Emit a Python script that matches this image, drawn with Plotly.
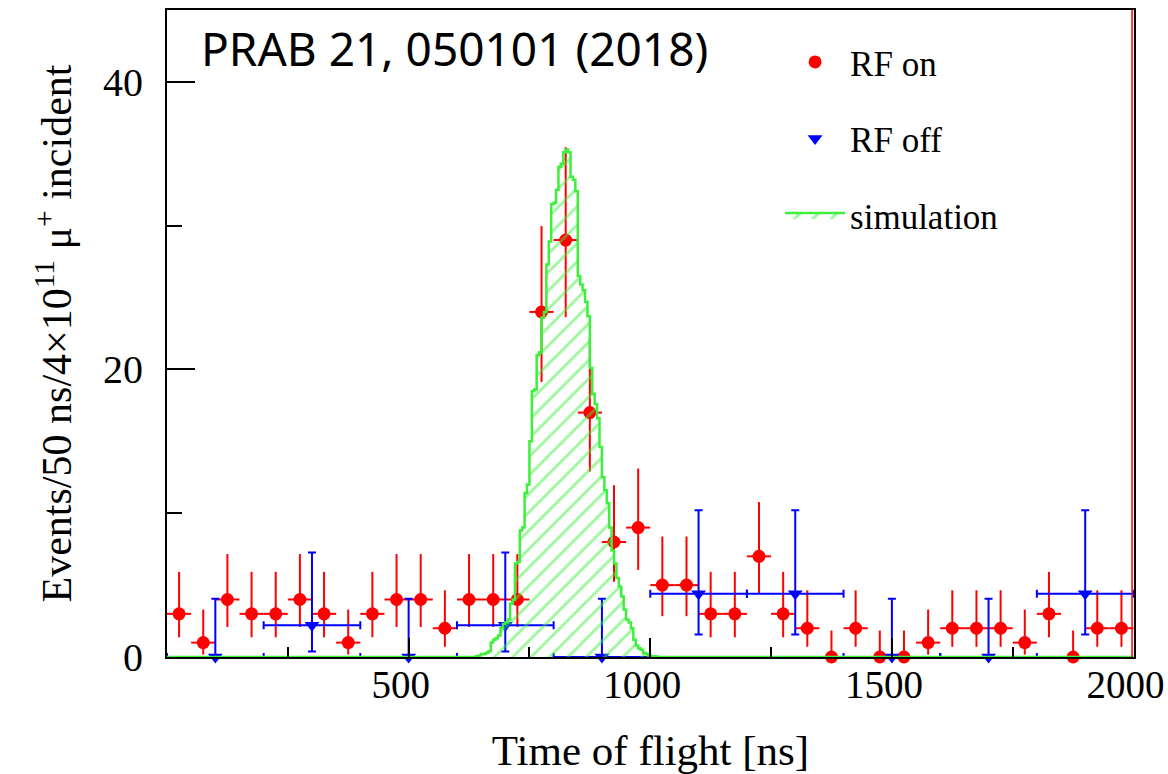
import plotly.graph_objects as go

# ---------------- data ----------------
# RF on: 50 ns bins, centres 25 ... 1975 ns
rf_on_x = list(range(25, 2000, 50))
rf_on_y = [3, 1, 4, 3, 3, 4, 3, 1, 3, 4,
           4, 2, 4, 4, 4, 24, 29, 17, 8, 9,
           5, 5, 3, 3, 7, 3, 2, 0, 2, 0,
           0, 1, 2, 2, 2, 1, 3, 0, 2, 2]
rf_on_err_minus = [1.63, 0.83, 1.91, 1.63, 1.63, 1.91, 1.63, 0.83, 1.63, 1.91,
                   1.91, 1.29, 1.91, 1.91, 1.91, 4.87, 5.36, 4.10, 2.77, 2.94,
                   2.16, 2.16, 1.63, 1.63, 2.58, 1.63, 1.29, 0.00, 1.29, 0.00,
                   0.00, 0.83, 1.29, 1.29, 1.29, 0.83, 1.63, 0.00, 1.29, 1.29]
rf_on_err_plus = [2.92, 2.30, 3.16, 2.92, 2.92, 3.16, 2.92, 2.30, 2.92, 3.16,
                  3.16, 2.64, 3.16, 3.16, 3.16, 5.97, 6.46, 5.20, 3.95, 4.11,
                  3.38, 3.38, 2.92, 2.92, 3.77, 2.92, 2.64, 1.84, 2.64, 1.84,
                  1.84, 2.30, 2.64, 2.64, 2.64, 2.30, 2.92, 1.84, 2.64, 2.64]
rf_on_halfwidth = 25

# RF off: 200 ns bins, centres 100 ... 1900 ns
rf_off_x = [100, 300, 500, 700, 900, 1100, 1300, 1500, 1700, 1900]
rf_off_y = [0, 2.2, 0, 2.2, 0, 4.4, 4.4, 0, 0, 4.4]
rf_off_err_minus = [0, 1.82, 0, 1.82, 0, 2.84, 2.84, 0, 0, 2.84]
rf_off_err_plus = [4.05, 5.06, 4.05, 5.06, 4.05, 5.81, 5.81, 4.05, 4.05, 5.81]
rf_off_halfwidth = 100

# simulation: 5 ns bins, left edges 640 ... 1010 ns
sim_left_edges = list(range(640, 1015, 5))
sim_y = [0.05, 0.1, 0.2, 0.2, 0.3, 0.4, 1.0, 1.2, 1.3, 1.5,
         2.0, 2.3, 2.4, 2.6, 3.7, 4.0, 6.5, 6.6, 8.8, 9.0,
         11.4, 12.0, 15.0, 18.5, 18.6, 21.0, 21.2, 23.6, 24.0, 27.3,
         28.9, 31.5, 31.6, 32.5, 34.1, 34.3, 35.1, 35.3, 35.1, 33.4,
         33.2, 32.4, 26.5, 25.9, 25.5, 24.7, 23.7, 20.1, 18.3, 17.6,
         16.6, 14.6, 12.5, 11.6, 10.7, 9.0, 7.4, 6.5, 5.5, 4.9,
         4.2, 3.3, 2.6, 2.4, 2.0, 1.2, 0.8, 0.6, 0.5, 0.3,
         0.2, 0.1, 0.05, 0.05, 0.03]
sim_bin_width = 5
x_range = [0, 2001]
y_range = [0, 45]

x_tickvals = [500, 1000, 1500, 2000]
y_tickvals = [0, 20, 40]

RED = "#ff0000"
BLUE = "#0000ff"
GREEN = "#3cf03c"
SERIF = "Liberation Serif"

# histogram outline as a step line over the full axis range
step_x = [0] + sim_left_edges + [sim_left_edges[-1] + sim_bin_width, 2000]
step_y = [0] + sim_y + [0, 0]

fig = go.Figure()

fig.add_trace(go.Scatter(
    x=rf_on_x, y=rf_on_y, mode="markers", name="RF on",
    marker=dict(symbol="circle", size=13, color=RED),
    error_y=dict(type="data", symmetric=False, array=rf_on_err_plus,
                 arrayminus=rf_on_err_minus, color=RED, thickness=2, width=0),
    error_x=dict(type="constant", value=rf_on_halfwidth, color=RED, thickness=2, width=0),
    cliponaxis=False, legendgroup="a",
))

fig.add_trace(go.Scatter(
    x=rf_off_x, y=rf_off_y, mode="markers", name="RF off",
    marker=dict(symbol="triangle-down", size=13, color=BLUE),
    error_y=dict(type="data", symmetric=False, array=rf_off_err_plus,
                 arrayminus=rf_off_err_minus, color=BLUE, thickness=2, width=4),
    error_x=dict(type="constant", value=rf_off_halfwidth, color=BLUE, thickness=2, width=4),
    cliponaxis=False, legendgroup="b",
))

fig.add_trace(go.Scatter(
    x=step_x, y=step_y, mode="lines", name="simulation",
    line=dict(shape="hv", color=GREEN, width=2.5),
    fill="tozeroy", fillcolor="rgba(0,0,0,0)",
    fillpattern=dict(shape="/", fgcolor=GREEN, bgcolor="rgba(0,0,0,0)",
                     size=13, solidity=0.22),
    legendgroup="c",
))

fig.add_shape(type="line", xref="paper", yref="paper", x0=0.998, x1=0.998, y0=0, y1=1,
              line=dict(color=RED, width=1.5))

fig.add_annotation(
    text="PRAB 21, 050101 (2018)", xref="paper", yref="paper",
    x=0.033, y=0.993, xanchor="left", yanchor="top", showarrow=False,
    font=dict(family="Noto Sans", size=46, color="black"),
)

fig.update_xaxes(
    range=x_range, tickvals=x_tickvals, ticks="inside", ticklen=19, tickwidth=1.5,
    tickcolor="black", showline=True, linecolor="black", linewidth=2, mirror=True,
    showgrid=False, zeroline=False,
    tickfont=dict(family=SERIF, size=39, color="black"), ticklabelstandoff=-8,
    ticklabelshift=-8, ticklabeloverflow="allow",
    minor=dict(dtick=250, ticks="inside", ticklen=10, tickwidth=1.5, tickcolor="black"),
    title=dict(text="Time of flight [ns]", font=dict(family=SERIF, size=43, color="black"),
               standoff=30),
)
fig.update_yaxes(
    range=y_range, tickvals=y_tickvals, ticks="inside", ticklen=28, tickwidth=1.5,
    tickcolor="black", showline=True, linecolor="black", linewidth=2, mirror=True,
    showgrid=False, zeroline=False,
    tickfont=dict(family=SERIF, size=40, color="black"), ticklabelstandoff=14,
    minor=dict(dtick=10, ticks="inside", ticklen=15, tickwidth=1.5, tickcolor="black"),
    title=dict(text="Events/50 ns/4×10<sup>11</sup> μ<sup>+</sup> incident",
               font=dict(family=SERIF, size=42, color="black"), standoff=18),
)

fig.update_layout(
    width=1168, height=774,
    margin=dict(l=167, r=34, t=10, b=117, autoexpand=False),
    paper_bgcolor="white", plot_bgcolor="white",
    showlegend=True,
    legend=dict(x=0.634, y=0.965, xanchor="left", yanchor="top",
                font=dict(family=SERIF, size=35, color="black"),
                bgcolor="rgba(0,0,0,0)", itemwidth=60, tracegroupgap=28,
                traceorder="grouped"),
)

fig.write_html("out.html")
